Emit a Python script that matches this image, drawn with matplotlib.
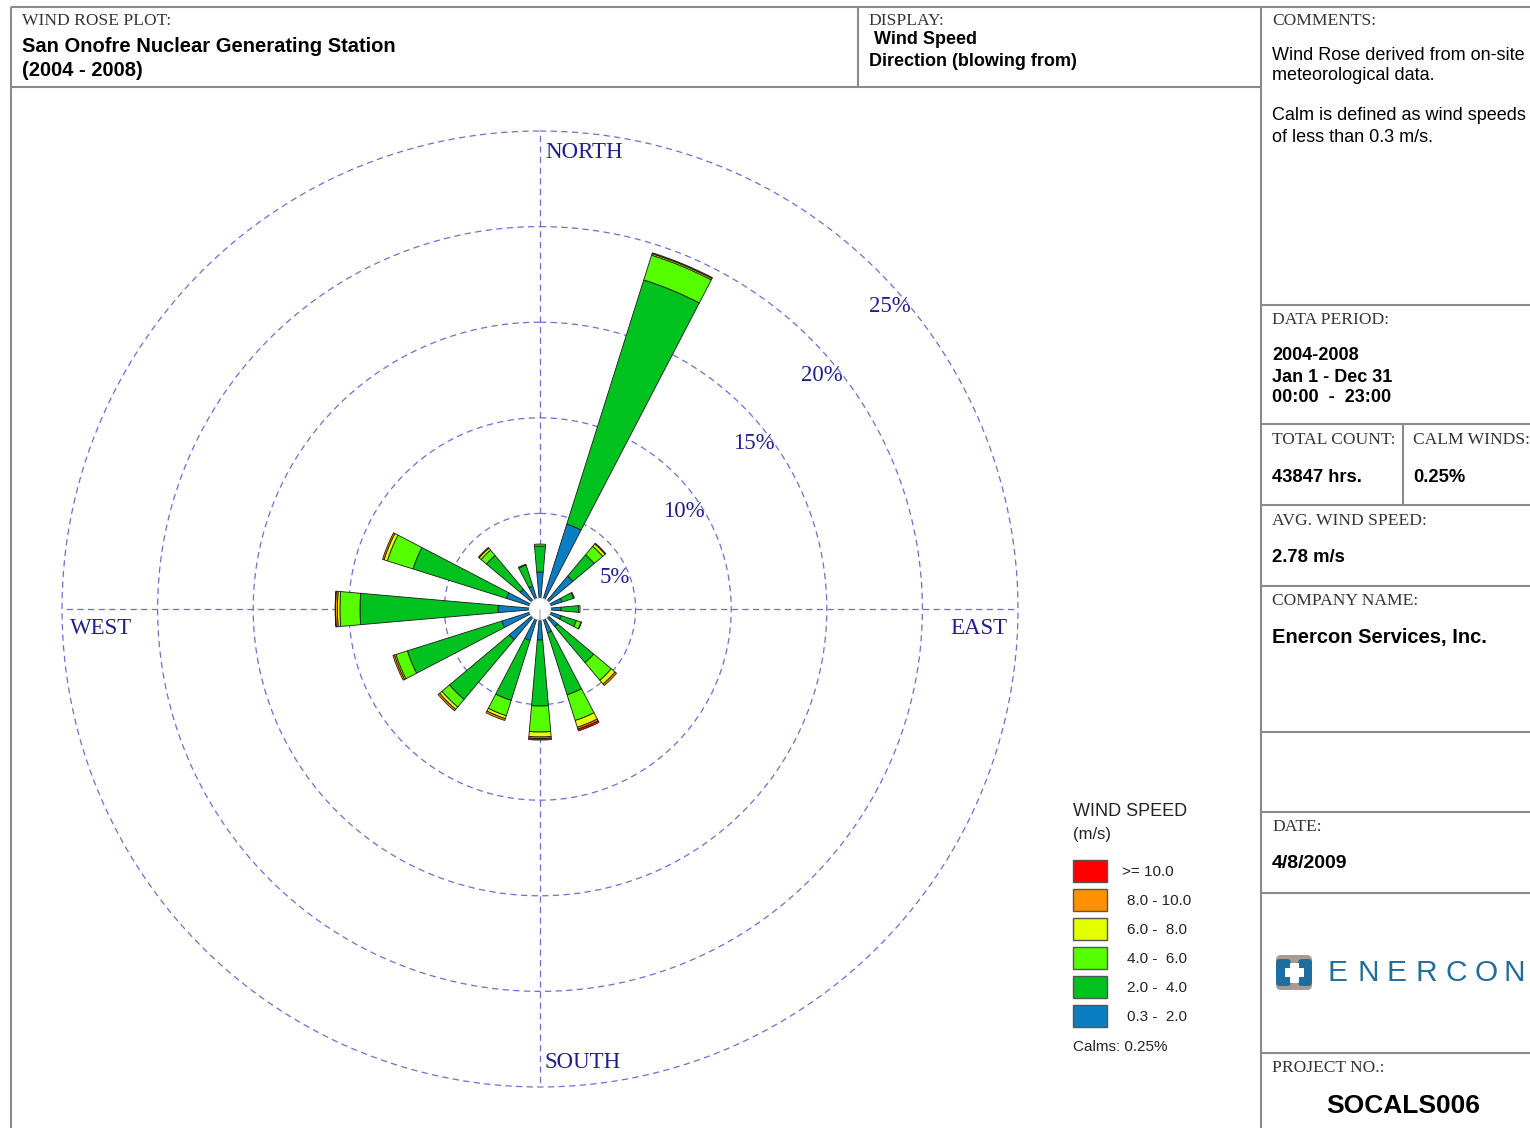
import numpy as np
import matplotlib
matplotlib.use("Agg")
import matplotlib.pyplot as plt
from matplotlib.patches import FancyBboxPatch, Rectangle

# ---------------- data ----------------
directions = ["N", "NNE", "NE", "ENE", "E", "ESE", "SE", "SSE",
              "S", "SSW", "SW", "WSW", "W", "WNW", "NW", "NNW"]
bearings = [0, 22.5, 45, 67.5, 90, 112.5, 135, 157.5,
            180, 202.5, 225, 247.5, 270, 292.5, 315, 337.5]

speed_labels = ["0.3 -  2.0", "2.0 -  4.0", "4.0 -  6.0",
                "6.0 -  8.0", "8.0 - 10.0", ">= 10.0"]
speed_colors = ["#0A7EC2", "#00C21E", "#55FF00", "#E4FF00", "#FF9000", "#FF0000"]

# frequency (%) per direction for each speed class
freq_03_2 = [1.36, 4.08, 1.67, 0.63, 0.52, 0.58, 0.63, 0.73,
             1.05, 1.15, 1.52, 1.52, 1.62, 1.26, 0.78, 0.68]
freq_2_4 = [1.36, 13.39, 1.46, 0.63, 0.92, 0.84, 2.46, 3.40,
            3.45, 3.29, 4.08, 5.18, 7.22, 5.13, 2.30, 1.15]
freq_4_6 = [0.10, 1.36, 0.58, 0.05, 0.08, 0.26, 1.20, 1.41,
            1.36, 0.84, 0.52, 0.63, 1.05, 1.41, 0.37, 0.05]
freq_6_8 = [0.00, 0.08, 0.16, 0.00, 0.00, 0.02, 0.26, 0.37,
            0.26, 0.16, 0.16, 0.08, 0.13, 0.18, 0.13, 0.00]
freq_8_10 = [0.00, 0.05, 0.05, 0.00, 0.00, 0.00, 0.10, 0.10,
             0.08, 0.10, 0.10, 0.08, 0.10, 0.08, 0.05, 0.00]
freq_10 = [0.00, 0.00, 0.00, 0.00, 0.00, 0.00, 0.00, 0.10,
           0.08, 0.00, 0.00, 0.00, 0.02, 0.00, 0.00, 0.00]

ring_values = [5, 10, 15, 20, 25]
ring_labels = ["5%", "10%", "15%", "20%", "25%"]
calm_pct = 0.25

# ---------------- figure ----------------
W, H = 1530, 1128
fig = plt.figure(figsize=(W / 100, H / 100), dpi=100, facecolor="white")

SERIF = ["Liberation Serif", "DejaVu Serif"]
SANS = ["Liberation Sans", "DejaVu Sans"]

ov = fig.add_axes([0, 0, 1, 1])
ov.set_xlim(0, W)
ov.set_ylim(H, 0)
ov.axis("off")

frame_c = "#8a8a8a"
flw = 1.5


def hline(y, x0, x1):
    ov.plot([x0, x1], [y, y], color=frame_c, lw=flw, solid_capstyle="butt")


def vline(x, y0, y1):
    ov.plot([x, x], [y0, y1], color=frame_c, lw=flw, solid_capstyle="butt")


hline(7, 11, W)
vline(11, 7, H)
hline(87, 11, 1261)
vline(858, 7, 87)
vline(1261, 7, H)
for yy in [305, 424, 505, 586, 732, 812, 893, 1053]:
    hline(yy, 1261, W)
vline(1403, 424, 505)

lab_c = "#333333"


def lab(x, y, s, size=12.6, **kw):
    ov.text(x, y, s, family=SERIF, fontsize=size, color=lab_c,
            va="center", ha="left", **kw)


def val(x, y, s, size=13, bold=True, **kw):
    ov.text(x, y, s, family=SANS, fontsize=size, color="black",
            va="center", ha=kw.pop("ha", "left"),
            fontweight="bold" if bold else "normal", **kw)


lab(22, 21, "WIND ROSE PLOT:")
val(22, 46, "San Onofre Nuclear Generating Station", size=14.5)
val(22, 70, "(2004 - 2008)", size=14.5)
lab(868, 21, "DISPLAY:")
val(874, 40, "Wind Speed")
val(869, 61, "Direction (blowing from)")

lab(1272, 21, "COMMENTS:")
val(1272, 56, "Wind Rose derived from on-site", bold=False)
val(1272, 76, "meteorological data.", bold=False)
val(1272, 116, "Calm is defined as wind speeds", bold=False)
val(1272, 137, "of less than 0.3 m/s.", bold=False)

lab(1272, 320, "DATA PERIOD:")
val(1272, 356, "2004-2008", size=13)
val(1272, 377, "Jan 1 - Dec 31", size=13)
val(1272, 397, "00:00  -  23:00", size=13)

lab(1272, 440, "TOTAL COUNT:")
lab(1413, 440, "CALM WINDS:")
val(1272, 477, "43847 hrs.", size=13.2)
val(1413, 477, "0.25%", size=13.2)

lab(1272, 521, "AVG. WIND SPEED:")
val(1272, 558, "2.78 m/s", size=13.3)

lab(1272, 601, "COMPANY NAME:")
val(1272, 638, "Enercon Services, Inc.", size=14.5)

lab(1272, 827, "DATE:")
val(1272, 864, "4/8/2009", size=14)

lab(1272, 1068, "PROJECT NO.:")
val(1403, 1106, "SOCALS006", size=19, ha="center")

# ENERCON logo
logo_blue = "#1F6E9E"
logo_gray = "#A89A90"
ov.add_patch(FancyBboxPatch((1276, 955), 36, 35, boxstyle="round,pad=0,rounding_size=5",
                            fc=logo_gray, ec="none"))
ov.add_patch(FancyBboxPatch((1276, 959), 15, 27, boxstyle="round,pad=0,rounding_size=4",
                            fc=logo_blue, ec="none"))
ov.add_patch(FancyBboxPatch((1298, 959), 14, 27, boxstyle="round,pad=0,rounding_size=4",
                            fc=logo_blue, ec="none"))
ov.add_patch(Rectangle((1290, 963), 9, 20, fc="white", ec="none"))
ov.add_patch(Rectangle((1285, 968), 19, 9, fc="white", ec="none"))
logo_text = "ENERCON"
for i, ch in enumerate(logo_text):
    ov.text(1328 + i * 29.3, 973, ch, family=SANS, fontsize=21.5, color=logo_blue,
            va="center", ha="left")

# direction labels
dir_c = "#1E1E8C"
ov.text(545, 152, "NORTH", family=SERIF, fontsize=16.5, color=dir_c, va="center", ha="left")
ov.text(545, 1063, "SOUTH", family=SERIF, fontsize=16.5, color=dir_c, va="center", ha="left")
ov.text(70, 629, "WEST", family=SERIF, fontsize=16.5, color=dir_c, va="center", ha="left")
ov.text(950, 629, "EAST", family=SERIF, fontsize=16.5, color=dir_c, va="center", ha="left")

# legend
ov.text(1073, 812, "WIND SPEED", family=SANS, fontsize=13, color="#222222", va="center")
ov.text(1073, 835, "(m/s)", family=SANS, fontsize=12, color="#222222", va="center")
for k in range(len(speed_labels)):
    idx = len(speed_labels) - 1 - k
    y0 = 860 + k * 29
    ov.add_patch(Rectangle((1073, y0), 34, 22, fc=speed_colors[idx], ec="#555555", lw=1.0))
    xl = 1122 if speed_labels[idx].startswith(">") else 1127
    ov.text(xl, y0 + 12, speed_labels[idx], family=SANS, fontsize=11,
            color="#222222", va="center", ha="left")
ov.text(1073, 1047, "Calms: %.2f%%" % calm_pct, family=SANS, fontsize=11,
        color="#222222", va="center")

# ---------------- polar rose ----------------
cx, cy = 540, 609
px_per_pct = 19.12
rmax = 25.5
R_px = rmax * px_per_pct
ax = fig.add_axes([(cx - R_px) / W, (H - cy - R_px) / H, 2 * R_px / W, 2 * R_px / H],
                  projection="polar")
ax.set_theta_zero_location("N")
ax.set_theta_direction(-1)
ax.set_ylim(0, rmax)
ax.set_facecolor("none")
ax.grid(False)
ax.set_xticks([])
ax.set_yticks([])
ax.spines["polar"].set_visible(False)

grid_c = "#6E6ED2"
tt = np.linspace(0, 2 * np.pi, 721)
for r in ring_values:
    ax.plot(tt, np.full_like(tt, r), color=grid_c, lw=0.9, ls=(0, (5, 3.5)), zorder=1)
for b in [0, 90, 180, 270]:
    ax.plot([np.deg2rad(b)] * 2, [0, ring_values[-1]], color=grid_c, lw=0.9,
            ls=(0, (5, 3.5)), zorder=1)

label_bearings = [71.0, 59.3, 54.8, 52.3, 50.8]
for r, s, b in zip(ring_values, ring_labels, label_bearings):
    ax.text(np.deg2rad(b), r, s, family=SERIF, fontsize=16.5, color=dir_c,
            ha="right", va="center", zorder=2)

calm_r = 11 / px_per_pct
theta = np.deg2rad(bearings)
width = np.deg2rad(10.0)
series = [freq_03_2, freq_2_4, freq_4_6, freq_6_8, freq_8_10, freq_10]
bottom = np.full(len(bearings), calm_r)
for vals, col in zip(series, speed_colors):
    v = np.array(vals)
    mask = v > 0
    ax.bar(theta[mask], v[mask], width=width, bottom=bottom[mask], color=col,
           edgecolor="#1a1a1a", linewidth=0.6, zorder=3)
    bottom = bottom + v

ax.bar(0, calm_r, width=2 * np.pi, bottom=0, color="white", edgecolor="#bbbbbb",
       linewidth=0.5, zorder=4)

fig.savefig("out.png", dpi=100, facecolor="white")
